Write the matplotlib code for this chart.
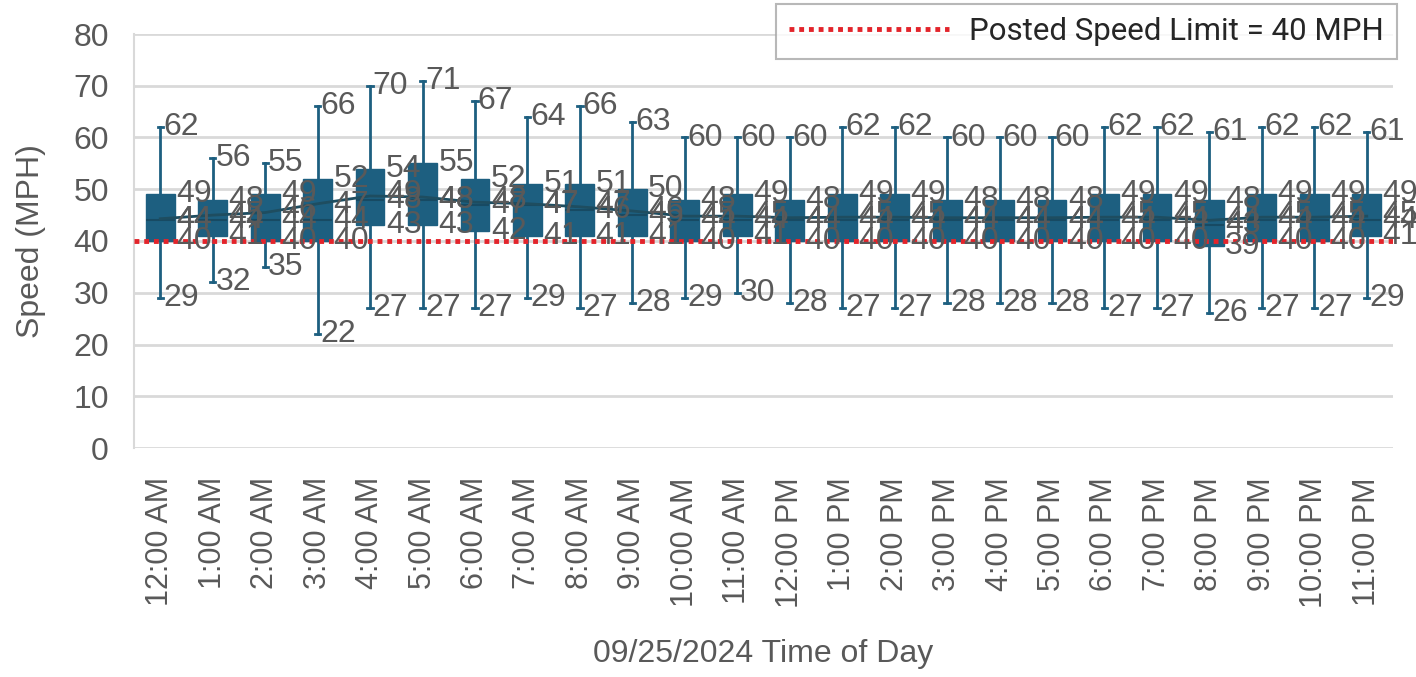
import numpy as np
import matplotlib
matplotlib.use("Agg")
import matplotlib.pyplot as plt

# hourly speed distribution
hours = ["12:00 AM", "1:00 AM", "2:00 AM", "3:00 AM", "4:00 AM", "5:00 AM",
         "6:00 AM", "7:00 AM", "8:00 AM", "9:00 AM", "10:00 AM", "11:00 AM",
         "12:00 PM", "1:00 PM", "2:00 PM", "3:00 PM", "4:00 PM", "5:00 PM",
         "6:00 PM", "7:00 PM", "8:00 PM", "9:00 PM", "10:00 PM", "11:00 PM"]
maxs = [62, 56, 55, 66, 70, 71, 67, 64, 66, 63, 60, 60,
        60, 62, 62, 60, 60, 60, 62, 62, 61, 62, 62, 61]
q3s = [49, 48, 49, 52, 54, 55, 52, 51, 51, 50, 48, 49,
       48, 49, 49, 48, 48, 48, 49, 49, 48, 49, 49, 49]
medians = [44, 44, 44, 44, 48, 48, 47, 47, 46, 45, 44, 44,
           44, 44, 44, 44, 44, 44, 44, 44, 43, 44, 44, 44]
q1s = [40, 41, 40, 40, 43, 43, 42, 41, 41, 41, 40, 41,
       40, 40, 40, 40, 40, 40, 40, 40, 39, 40, 40, 41]
mins = [29, 32, 35, 22, 27, 27, 27, 29, 27, 28, 29, 30,
        28, 27, 27, 28, 28, 28, 27, 27, 26, 27, 27, 29]
means = [44.3, 45.0, 45.5, 47.2, 48.7, 48.5, 47.5, 47.2, 46.6, 45.8, 44.8, 44.8,
         44.5, 44.6, 44.6, 44.5, 44.5, 44.5, 44.6, 44.6, 44.0, 44.6, 44.6, 44.8]
speed_limit = 40

box_color = "#1D5F80"
text_color = "#595959"
grid_color = "#D9D9D9"

plt.rcParams["font.family"] = ["Liberation Sans", "DejaVu Sans"]

fig = plt.figure(figsize=(14.16, 6.77), dpi=100)
# plot area: x 134..1393 px, y 34..448 px
ax = fig.add_axes([134 / 1416, 1 - 448 / 677, 1259 / 1416, 414 / 677])

x = np.arange(len(hours))
stats = []
for i in range(len(hours)):
    stats.append(dict(label=hours[i], med=medians[i], q1=q1s[i], q3=q3s[i],
                      whislo=mins[i], whishi=maxs[i], mean=means[i], fliers=[]))

bw = 0.55
ax.bxp(stats, positions=x, widths=bw, patch_artist=True, showfliers=False,
       boxprops=dict(facecolor=box_color, edgecolor=box_color, linewidth=1),
       medianprops=dict(color="#174A63", linewidth=1.5),
       whiskerprops=dict(color=box_color, linewidth=2),
       capprops=dict(color=box_color, linewidth=2),
       capwidths=0.1, zorder=3)

# mean line
ax.plot(x, means, color="#1E4D60", linewidth=2, zorder=4)

# speed limit line
ax.axhline(speed_limit, color="#E3242B", linewidth=3.5, linestyle=(0, (1, 1)),
           zorder=5, label="Posted Speed Limit = 40 MPH")

# data labels
lab_fs = 23
for i in range(len(hours)):
    ax.annotate(str(maxs[i]), (x[i], maxs[i]), xytext=(2, 0), textcoords="offset points",
                ha="left", va="center", fontsize=lab_fs, color=text_color, zorder=6)
    ax.annotate(str(mins[i]), (x[i], mins[i]), xytext=(2, 0), textcoords="offset points",
                ha="left", va="center", fontsize=lab_fs, color=text_color, zorder=6)
    for v in [q3s[i], medians[i], q1s[i], int(round(means[i]))]:
        ax.annotate(str(v), (x[i] + bw / 2, v), xytext=(1, 0), textcoords="offset points",
                    ha="left", va="center", fontsize=lab_fs, color=text_color, zorder=6)

ax.set_ylim(0, 80)
ax.set_xlim(-0.5, len(hours) - 0.5)
ax.set_yticks(np.arange(0, 81, 10))
ax.set_xticks(x)
ax.set_xticklabels(hours, rotation=90)
ax.tick_params(axis="both", length=0, colors=text_color)
ax.tick_params(axis="y", pad=18, labelsize=23)
ax.tick_params(axis="x", pad=21, labelsize=22)
ax.grid(axis="y", color=grid_color, linewidth=2, zorder=0)
ax.set_axisbelow(True)
for s in ["top", "right", "bottom"]:
    ax.spines[s].set_visible(False)
ax.spines["left"].set_color(grid_color)
ax.spines["left"].set_linewidth(1.5)

ax.set_ylabel("Speed (MPH)", fontsize=23, color=text_color, labelpad=20)
ax.set_xlabel("09/25/2024 Time of Day", fontsize=23, color=text_color, labelpad=22)

leg = fig.legend(loc="upper right", bbox_to_anchor=(1397 / 1416, 1 - 4 / 677),
                 handlelength=5.1, handletextpad=0.65, fancybox=False,
                 borderpad=0.42, borderaxespad=0, prop=dict(family="Roboto", size=22.5))
leg.get_frame().set_edgecolor("#A6A6A6")
leg.get_frame().set_linewidth(1.5)
for t in leg.get_texts():
    t.set_color("#262626")

fig.savefig("out.png", dpi=100)
